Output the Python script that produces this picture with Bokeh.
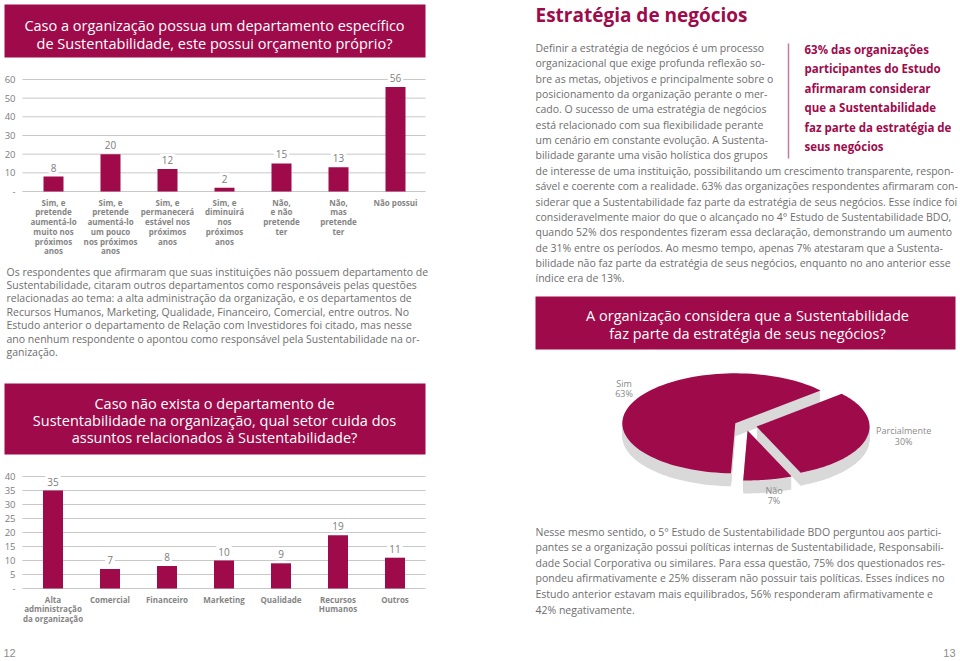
import numpy as np
from bokeh.plotting import figure
from bokeh.layouts import column, row
from bokeh.models import Range1d, Text
from bokeh.core.properties import value
from bokeh.embed import file_html
from bokeh.resources import INLINE

# ---------------- data ----------------
Q1_TITLE = ["Caso a organização possua um departamento específico",
            "de Sustentabilidade, este possui orçamento próprio?"]
Q1_CATEGORIES = ["Sim, e\npretende\naumentá-lo\nmuito nos\npróximos\nanos",
                 "Sim, e\npretende\naumentá-lo\num pouco\nnos próximos\nanos",
                 "Sim, e\npermanecerá\nestável nos\npróximos\nanos",
                 "Sim, e\ndiminuirá\nnos\npróximos\nanos",
                 "Não,\ne não\npretende\nter",
                 "Não,\nmas\npretende\nter",
                 "Não possui"]
Q1_VALUES = [8, 20, 12, 2, 15, 13, 56]
Q1_TICKS = [0, 10, 20, 30, 40, 50, 60]

Q2_TITLE = ["Caso não exista o departamento de",
            "Sustentabilidade na organização, qual setor cuida dos",
            "assuntos relacionados à Sustentabilidade?"]
Q2_CATEGORIES = ["Alta\nadministração\nda organização", "Comercial", "Financeiro",
                 "Marketing", "Qualidade", "Recursos\nHumanos", "Outros"]
Q2_VALUES = [35, 7, 8, 10, 9, 19, 11]
Q2_TICKS = [0, 5, 10, 15, 20, 25, 30, 35, 40]

Q3_TITLE = ["A organização considera que a Sustentabilidade",
            "faz parte da estratégia de seus negócios?"]
PIE_LABELS = ["Sim", "Não", "Parcialmente"]
PIE_VALUES = [63, 7, 30]

LEFT_PARAGRAPH = [
    "Os respondentes que afirmaram que suas instituições não possuem departamento de",
    "Sustentabilidade, citaram outros departamentos como responsáveis pelas questões",
    "relacionadas ao tema: a alta administração da organização, e os departamentos de",
    "Recursos Humanos, Marketing, Qualidade, Financeiro, Comercial, entre outros. No",
    "Estudo anterior o departamento de Relação com Investidores foi citado, mas nesse",
    "ano nenhum respondente o apontou como responsável pela Sustentabilidade na or-",
    "ganização.",
]
HEADING = "Estratégia de negócios"
RIGHT_TEXT = [
    "Definir a estratégia de negócios é um processo",
    "organizacional que exige profunda reflexão so-",
    "bre as metas, objetivos e principalmente sobre o",
    "posicionamento da organização perante o mer-",
    "cado. O sucesso de uma estratégia de negócios",
    "está relacionado com sua flexibilidade perante",
    "um cenário em constante evolução. A Sustenta-",
    "bilidade garante uma visão holística dos grupos",
    "de interesse de uma instituição, possibilitando um crescimento transparente, respon-",
    "sável e coerente com a realidade. 63% das organizações respondentes afirmaram con-",
    "siderar que a Sustentabilidade faz parte da estratégia de seus negócios. Esse índice foi",
    "consideravelmente maior do que o alcançado no 4° Estudo de Sustentabilidade BDO,",
    "quando 52% dos respondentes fizeram essa declaração, demonstrando um aumento",
    "de 31% entre os períodos. Ao mesmo tempo, apenas 7% atestaram que a Sustenta-",
    "bilidade não faz parte da estratégia de seus negócios, enquanto no ano anterior esse",
    "índice era de 13%.",
]
CALLOUT = ["63% das organizações", "participantes do Estudo", "afirmaram considerar",
           "que a Sustentabilidade", "faz parte da estratégia de", "seus negócios"]
BOTTOM_TEXT = [
    "Nesse mesmo sentido, o 5° Estudo de Sustentabilidade BDO perguntou aos partici-",
    "pantes se a organização possui políticas internas de Sustentabilidade, Responsabili-",
    "dade Social Corporativa ou similares. Para essa questão, 75% dos questionados res-",
    "pondeu afirmativamente e 25% disseram não possuir tais políticas. Esses índices no",
    "Estudo anterior estavam mais equilibrados, 56% responderam afirmativamente e",
    "42% negativamente.",
]
PAGE_NUMBERS = ["12", "13"]

# ---------------- style ----------------
CRIMSON = "#9f0a4a"
TEXT_GRAY = "#6e6e6e"
LABEL_GRAY = "#7d7d7d"
CAT_GRAY = "#858585"
GRID_GRAY = "#c8c8c8"
SIDE_GRAY = "#d9d9d9"
FONT = "Open Sans"
NUM_FONT = "Liberation Sans Narrow, Liberation Sans, sans-serif"
PIE_LABEL_NUDGE_X = [11, 2, 15]     # screen px, per slice label
PIE_LABEL_NUDGE_Y = [-9, -7, -7]

HAS_BG = "background_fill_color" in Text.properties()


def base_fig(w, h, xr, yr):
    p = figure(width=w, height=h, x_range=xr, y_range=yr, output_backend="svg",
               toolbar_location=None, tools="", x_axis_location=None,
               y_axis_location=None, min_border=0)
    p.outline_line_color = None
    p.background_fill_color = "white"
    p.border_fill_color = "white"
    for g in p.grid:
        g.visible = False
    return p


def canvas(w, h):
    return base_fig(w, h, Range1d(0, w), Range1d(h, 0))


def lines(p, x, y0, dy, texts, size, color, style="normal", align="left", font=FONT):
    ys = [y0 + i * dy for i in range(len(texts))]
    p.text(x=[x] * len(texts), y=ys, text=texts, text_font=value(font),
           text_font_size=f"{size}px", text_color=color, text_font_style=style,
           text_align=align, text_baseline="middle")


def bar_chart(cats, vals, ticks, w, h, zero_px, unit_px, first_px, step_px,
              grid_x0, grid_x1, tick_x, cat_top, line_h, bar_px):
    def dx(px):
        return (px - first_px) / step_px + 0.5

    def dy(py):
        return (zero_px - py) / unit_px

    p = base_fig(w, h, Range1d(dx(0), dx(w)), Range1d(dy(h), dy(0)))
    xs = list(np.arange(len(cats)) + 0.5)
    n = len(ticks)
    # grid lines and tick labels placed through the value scale
    p.segment(x0=[dx(grid_x0)] * n, x1=[dx(grid_x1)] * n, y0=ticks, y1=ticks,
              line_color=GRID_GRAY, line_width=1)
    p.text(x=[dx(tick_x)] * n, y=ticks, text=["-" if t == 0 else str(t) for t in ticks],
           text_align="right", text_baseline="middle", text_font=value(FONT),
           text_font_size="9.5px", text_color=LABEL_GRAY)
    p.vbar(x=xs, top=vals, width=bar_px / step_px, fill_color=CRIMSON, line_color=None)
    kw = dict(background_fill_color="white", padding=2) if HAS_BG else {}
    p.text(x=xs, y=vals, text=[str(v) for v in vals], y_offset=-9,
           text_align="center", text_baseline="middle", text_font=value(FONT),
           text_font_size="10px", text_color=LABEL_GRAY, **kw)
    p.text(x=xs, y=[dy(cat_top)] * len(cats), text=cats, text_align="center",
           text_baseline="top", text_font=value(FONT), text_font_size="8px",
           text_font_style="bold", text_color=CAT_GRAY, text_line_height=line_h)
    return p


# ---------------- left page (x 0..430) ----------------
LW = 430
blk_a = canvas(LW, 62)
blk_a.quad(left=[4], right=[425], top=[4], bottom=[57], fill_color=CRIMSON, line_color=None)
lines(blk_a, 214, 25, 18, Q1_TITLE, 14.5, "white", align="center")

# chart 1: y 62..256
chart1 = bar_chart(Q1_CATEGORIES, Q1_VALUES, Q1_TICKS, LW, 194, zero_px=129,
                   unit_px=1.867, first_px=53, step_px=57, grid_x0=22, grid_x1=425,
                   tick_x=15, cat_top=134, line_h=0.89, bar_px=20)

# block C: y 256..468
blk_c = canvas(LW, 212)
lines(blk_c, 6, 15, 13.4, LEFT_PARAGRAPH, 10.5, TEXT_GRAY)
blk_c.quad(left=[4], right=[425], top=[127], bottom=[198], fill_color=CRIMSON, line_color=None)
lines(blk_c, 214, 147, 17, Q2_TITLE, 14.5, "white", align="center")

# chart 2: y 468..628
chart2 = bar_chart(Q2_CATEGORIES, Q2_VALUES, Q2_TICKS, LW, 160, zero_px=120,
                   unit_px=2.8, first_px=52.5, step_px=57, grid_x0=22, grid_x1=425,
                   tick_x=15, cat_top=125, line_h=0.87, bar_px=20)

# block E: y 628..660
blk_e = canvas(LW, 32)
blk_e.text(x=[3], y=[24], text=[PAGE_NUMBERS[0]], text_font=value(NUM_FONT),
           text_font_size="11px", text_color="#8c8c8c", text_baseline="middle")

left = column(blk_a, chart1, blk_c, chart2, blk_e, spacing=0)

# ---------------- right page (x 430..960) ----------------
RW = 530
r1 = canvas(RW, 290)
r1.text(x=[105], y=[14], text=[HEADING], text_font=value(FONT), text_font_size="19px",
        text_font_style="bold", text_color=CRIMSON, text_baseline="middle")
lines(r1, 105, 47.5, 15.35, RIGHT_TEXT, 10.5, TEXT_GRAY)
r1.segment(x0=[358], y0=[43], x1=[358], y1=[158], line_color="#c47a9c", line_width=1.5)
lines(r1, 374, 49, 19.4, CALLOUT, 11.5, CRIMSON, style="bold")

r2 = canvas(RW, 70)
r2.quad(left=[105], right=[525], top=[6], bottom=[59], fill_color=CRIMSON, line_color=None)
lines(r2, 317, 25, 18, Q3_TITLE, 14.5, "white", align="center")

# pie: y 360..512 (ellipse via unequal x / y scales)
PW, PH = RW, 152
CX, CY, RX, RY = 315, 65, 113, 50
pie = base_fig(PW, PH, Range1d(-CX / RX, (PW - CX) / RX),
               Range1d(-(PH - CY) / RY, CY / RY))

vals = np.array(PIE_VALUES, dtype=float)
fracs = vals / vals.sum()
start = np.deg2rad(41.0)
bounds = start + 2 * np.pi * np.concatenate([[0], np.cumsum(fracs)])
EXPLODE = 0.1
DEPTH_STEPS = 13
tops_x, tops_y, side_x, side_y, lab_x, lab_y, lab_t = [], [], [], [], [], [], []
for i in range(len(vals)):
    a0, a1 = bounds[i], bounds[i + 1]
    mid = (a0 + a1) / 2
    ox, oy = EXPLODE * np.cos(mid), EXPLODE * np.sin(mid)
    th = np.linspace(a0, a1, 90)
    xs = np.concatenate([[0], np.cos(th), [0]]) + ox
    ys = np.concatenate([[0], np.sin(th), [0]]) + oy
    tops_x.append(xs)
    tops_y.append(ys)
    for k in range(1, DEPTH_STEPS + 1):
        side_x.append(xs)
        side_y.append(ys - k / RY)
    r = 1.3
    lab_x.append(r * np.cos(mid))
    lab_y.append(r * np.sin(mid) - (DEPTH_STEPS / RY) * max(0.0, -np.sin(mid)))
    lab_t.append(f"{PIE_LABELS[i]}\n{PIE_VALUES[i]}%")

pie.patches(xs=side_x, ys=side_y, fill_color=SIDE_GRAY, line_color=None)
pie.patches(xs=tops_x, ys=tops_y, fill_color=CRIMSON, line_color=None)
pie.text(x=lab_x, y=lab_y, text=lab_t, text_align="center", text_baseline="middle",
         x_offset=PIE_LABEL_NUDGE_X, y_offset=PIE_LABEL_NUDGE_Y,
         text_font=value(FONT), text_font_size="9px", text_color="#8a8a8a",
         text_line_height=0.8)

# block R4: y 512..660
r4 = canvas(RW, 148)
lines(r4, 105, 19, 15.6, BOTTOM_TEXT, 10.5, TEXT_GRAY)
r4.text(x=[525], y=[140], text=[PAGE_NUMBERS[1]], text_font=value(NUM_FONT),
        text_font_size="11px", text_color="#8c8c8c", text_baseline="middle",
        text_align="right")

right = column(r1, r2, pie, r4, spacing=0)

page = row(left, right, spacing=0)

open("out.html", "w").write(file_html(page, INLINE))
